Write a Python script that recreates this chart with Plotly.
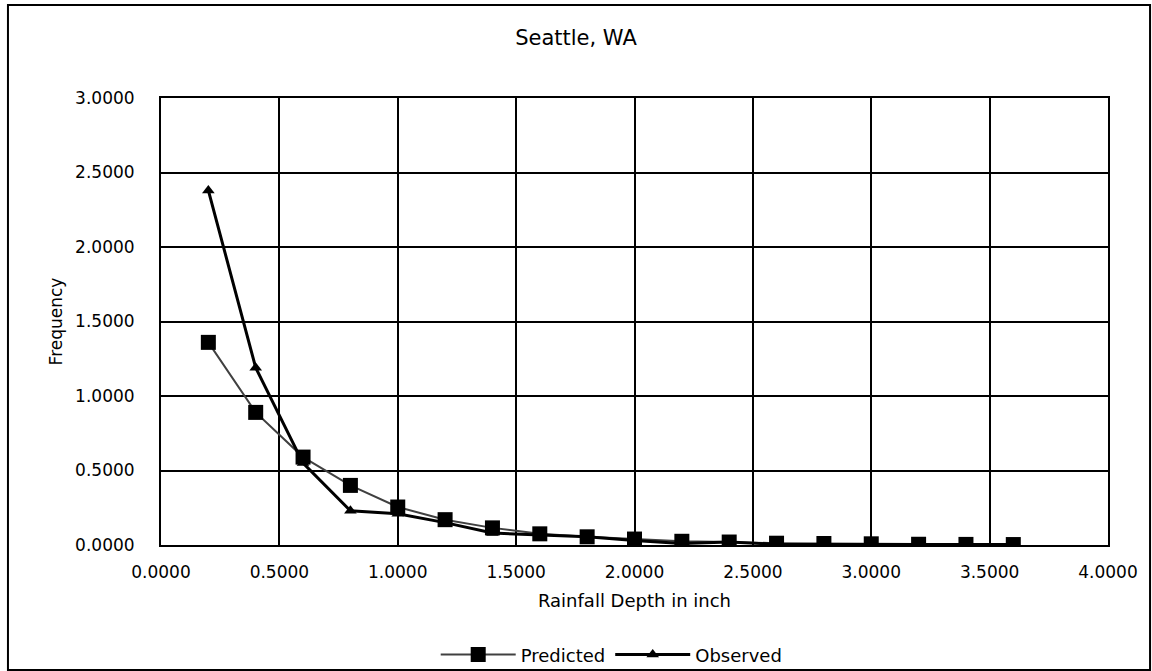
import plotly.graph_objects as go

# rainfall depth bins (inch)
depth = [0.2, 0.4, 0.6, 0.8, 1.0, 1.2, 1.4, 1.6, 1.8, 2.0,
         2.2, 2.4, 2.6, 2.8, 3.0, 3.2, 3.4, 3.6]
predicted = [1.36, 0.89, 0.59, 0.40, 0.255, 0.17, 0.115, 0.075, 0.055, 0.04,
             0.025, 0.02, 0.012, 0.01, 0.008, 0.005, 0.004, 0.003]
observed = [2.38, 1.19, 0.55, 0.23, 0.21, 0.15, 0.08, 0.07, 0.055, 0.03,
            0.01, 0.02, 0.005, 0.004, 0.004, 0.003, 0.003, 0.003]

FONT = "DejaVu Sans, Liberation Sans, Arial, sans-serif"

fig = go.Figure()
fig.add_trace(go.Scatter(x=depth, y=predicted, name="Predicted", mode="lines+markers",
                         line=dict(color="#404040", width=2),
                         marker=dict(symbol="square", size=15, color="black")))
fig.add_trace(go.Scatter(x=depth, y=observed, name="Observed", mode="lines+markers",
                         line=dict(color="black", width=3),
                         marker=dict(symbol="triangle-up", size=11, color="black")))

fig.update_layout(
    width=1152, height=671,
    margin=dict(l=161, r=44, t=98, b=126),
    paper_bgcolor="white", plot_bgcolor="white",
    font=dict(family=FONT, size=17, color="black"),
    title=dict(text="Seattle, WA", x=0.5, xanchor="center", y=0.944, yanchor="middle",
               font=dict(size=21)),
    legend=dict(orientation="h", x=0.531, xref="container", xanchor="center",
                y=0.024, yref="container", yanchor="middle",
                bgcolor="rgba(0,0,0,0)",
                font=dict(size=18), itemwidth=75, tracegroupgap=0),
    showlegend=True,
)
# transparent long ticks push the labels away from the axis like the original
fig.update_xaxes(range=[0, 4], dtick=0.5, tickformat=".4f", showgrid=True,
                 gridcolor="black", gridwidth=2, showline=True, linecolor="black",
                 linewidth=2, mirror=True, zeroline=False, ticks="outside", ticklen=11,
                 tickcolor="rgba(0,0,0,0)", tickfont=dict(size=17), automargin=False,
                 title=dict(text="Rainfall Depth in inch", font=dict(size=18), standoff=13))
fig.update_yaxes(range=[0, 3], dtick=0.5, tickformat=".4f", showgrid=True,
                 gridcolor="black", gridwidth=2, showline=True, linecolor="black",
                 linewidth=2, mirror=True, zeroline=False, ticks="outside", ticklen=21,
                 tickcolor="rgba(0,0,0,0)", tickfont=dict(size=17), automargin=False,
                 title=dict(text="Frequency", font=dict(size=17), standoff=8))

# outer chart border
fig.add_shape(type="rect", xref="paper", yref="paper",
              x0=-0.1616, x1=1.0444, y0=-0.2796, y1=1.208,
              line=dict(color="black", width=2), fillcolor="rgba(0,0,0,0)")

fig.write_html("out.html", config={"displayModeBar": False},
               post_script="document.body.style.margin='0';")
